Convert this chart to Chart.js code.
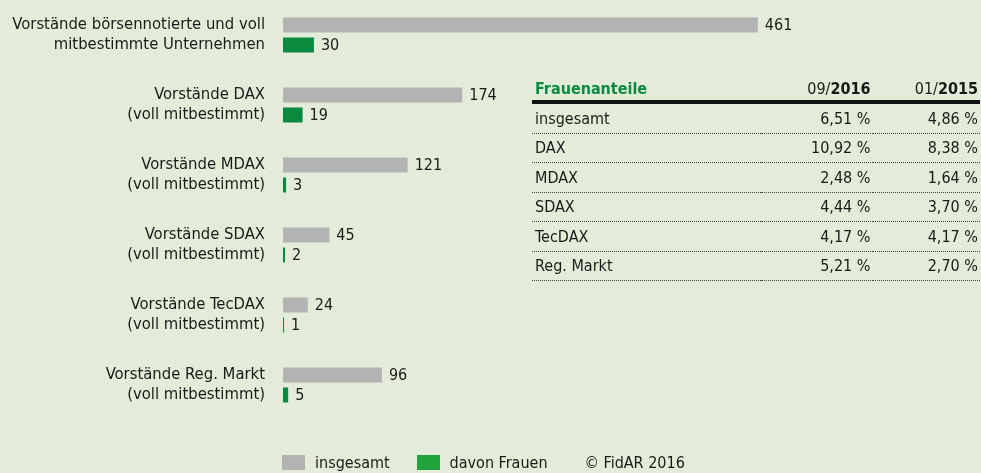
<!DOCTYPE html>
<html>
<head>
<meta charset="utf-8">
<script src="https://cdn.jsdelivr.net/npm/chart.js@4.4.1/dist/chart.umd.min.js"></script>
<style>
  html, body { margin: 0; padding: 0; background: #e2ecd9; }
  body { width: 981px; height: 473px; position: relative; overflow: hidden;
         font-family: 'Liberation Sans Narrow', 'DejaVu Sans Condensed', sans-serif; color: #1a1a1a; }
  #wrap { position: absolute; left: 0; top: 0; width: 981px; height: 473px; }
  #share { position: absolute; left: 532px; top: 76px; width: 448px; border-collapse: collapse; font-size: 16px; }
  #share th, #share td { padding: 0 2px 0 3px; height: 28.5px; white-space: nowrap; }
  #share th { text-align: right; font-weight: normal; border-bottom: 4px solid #111; height: 24px; }
  #share th.lbl { text-align: left; color: #0a8a3e; font-weight: bold; }
  #share td { border-bottom: 1px dotted #444; }
  #share td.num { text-align: right; }
  #legend { position: absolute; left: 282px; top: 453px; font-size: 16px; display: flex; align-items: center; }
  #legend .sw { display: inline-block; width: 23px; height: 15px; margin-right: 10px; }
</style>
</head>
<body>
<div id="wrap"><canvas id="bars" width="981" height="473"></canvas></div>

<table id="share"></table>

<div id="legend">
  <span class="sw" style="background:#b3b3b3"></span><span style="margin-right:27px">insgesamt</span>
  <span class="sw" style="background:#20a33b"></span><span style="margin-right:37px">davon Frauen</span>
  <span>© FidAR 2016</span>
</div>

<script>
// bar data
const categories = [
  ['Vorstände börsennotierte und voll', 'mitbestimmte Unternehmen'],
  ['Vorstände DAX', '(voll mitbestimmt)'],
  ['Vorstände MDAX', '(voll mitbestimmt)'],
  ['Vorstände SDAX', '(voll mitbestimmt)'],
  ['Vorstände TecDAX', '(voll mitbestimmt)'],
  ['Vorstände Reg. Markt', '(voll mitbestimmt)']
];
const insgesamt = [461, 174, 121, 45, 24, 96];
const davonFrauen = [30, 19, 3, 2, 1, 5];

// table data
const tableHeader = ['Frauenanteile', '09/', '2016', '01/', '2015'];
const segments = ['insgesamt', 'DAX', 'MDAX', 'SDAX', 'TecDAX', 'Reg. Markt'];
const share2016 = ['6,51 %', '10,92 %', '2,48 %', '4,44 %', '4,17 %', '5,21 %'];
const share2015 = ['4,86 %', '8,38 %', '1,64 %', '3,70 %', '4,17 %', '2,70 %'];

const FONT = "'Liberation Sans Narrow', 'DejaVu Sans Condensed', sans-serif";

// build table
const table = document.getElementById('share');
let html = '<colgroup><col style="width:228px"><col style="width:111px"><col style="width:107px"></colgroup>';
html += '<tr><th class="lbl">' + tableHeader[0] + '</th>' +
        '<th>' + tableHeader[1] + '<b>' + tableHeader[2] + '</b></th>' +
        '<th>' + tableHeader[3] + '<b>' + tableHeader[4] + '</b></th></tr>';
segments.forEach((s, i) => {
  html += '<tr><td>' + s + '</td><td class="num">' + share2016[i] + '</td><td class="num">' + share2015[i] + '</td></tr>';
});
table.innerHTML = html;

// value labels next to bars
const valueLabels = {
  id: 'valueLabels',
  afterDatasetsDraw(chart) {
    const ctx = chart.ctx;
    ctx.save();
    ctx.font = '16px ' + FONT;
    ctx.fillStyle = '#1a1a1a';
    ctx.textBaseline = 'middle';
    ctx.textAlign = 'left';
    chart.data.datasets.forEach((ds, di) => {
      chart.getDatasetMeta(di).data.forEach((bar, i) => {
        ctx.fillText(ds.data[i], bar.x + 7, bar.y + 1);
      });
    });
    ctx.restore();
  }
};

const bars = new Chart(document.getElementById('bars').getContext('2d'), {
  type: 'bar',
  data: {
    labels: categories,
    datasets: [
      { label: 'insgesamt', data: insgesamt, backgroundColor: '#b3b3b3' },
      { label: 'davon Frauen', data: davonFrauen, backgroundColor: '#0a8a3e' }
    ]
  },
  options: {
    indexAxis: 'y',
    responsive: false,
    animation: false,
    categoryPercentage: 0.571,
    barPercentage: 0.75,
    layout: { padding: { top: 0, bottom: 53, right: 80, left: 0 } },
    scales: {
      x: { display: false, min: 0, max: 600 },
      y: {
        grid: { display: false, drawTicks: false },
        border: { display: false },
        ticks: { color: '#1a1a1a', font: { family: FONT, size: 16.5, lineHeight: 1.2 }, padding: 18 },
        afterFit(scale) {
          scale.width = 283;
          scale.paddingTop = 0;
          scale.paddingBottom = 0;
        }
      }
    },
    plugins: {
      legend: { display: false },
      tooltip: { enabled: false }
    }
  },
  plugins: [valueLabels]
});
</script>
</body>
</html>
